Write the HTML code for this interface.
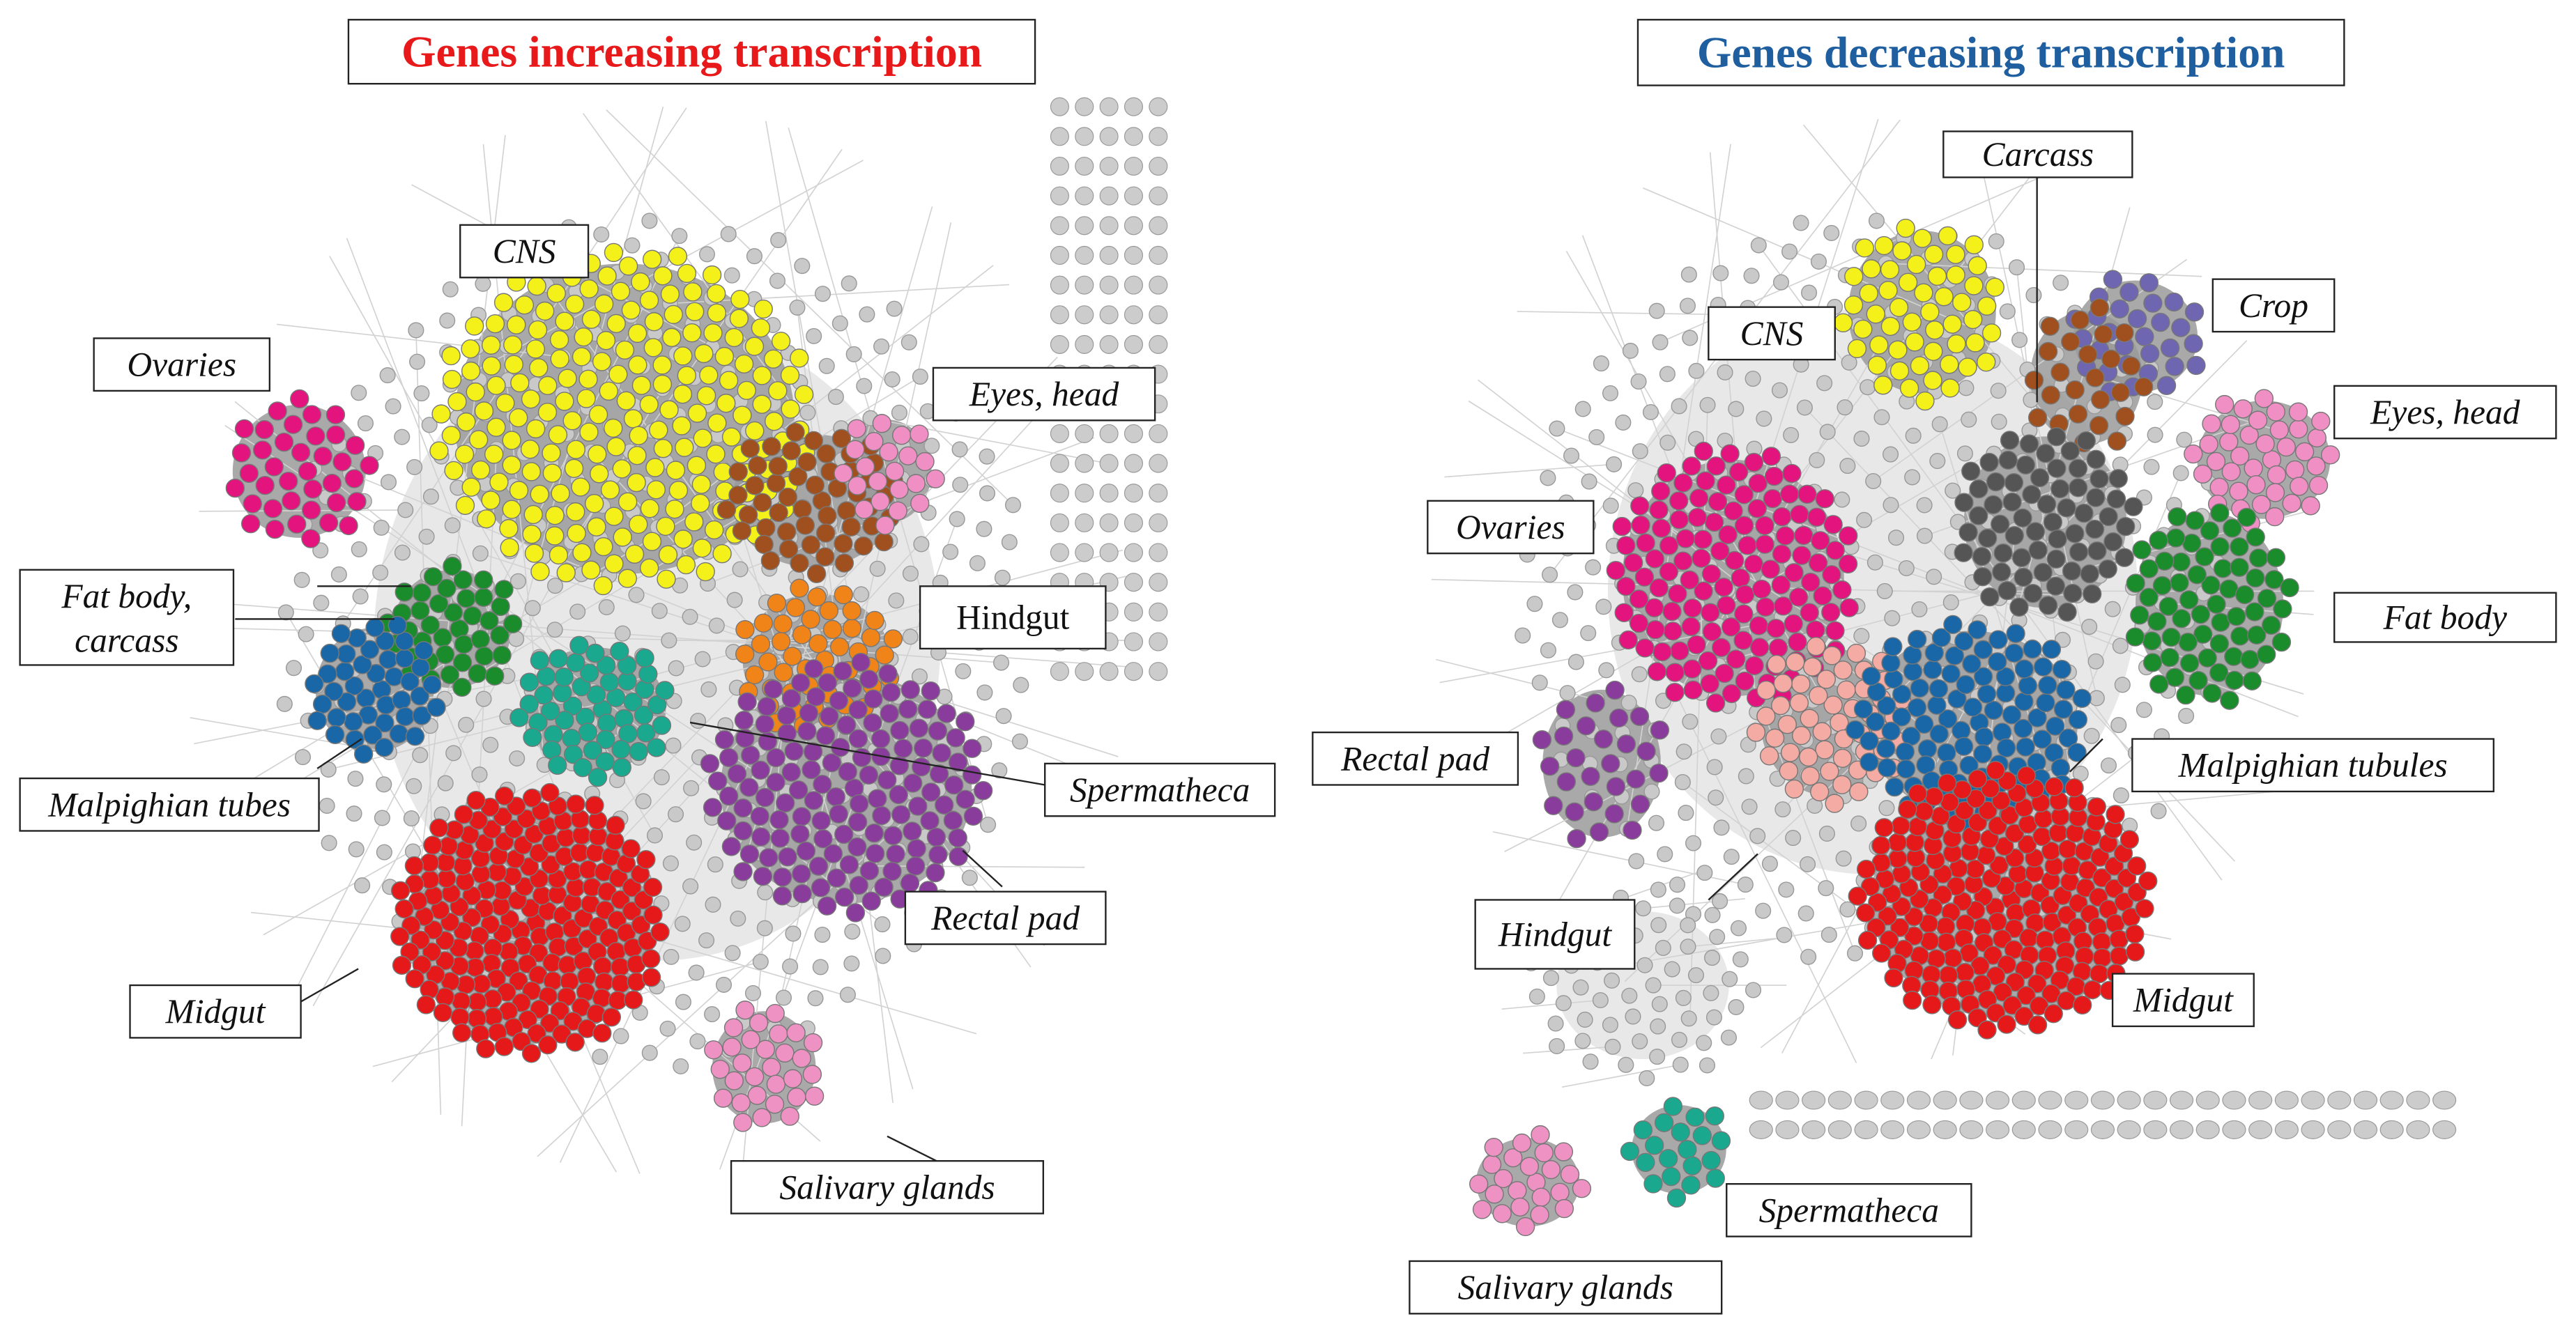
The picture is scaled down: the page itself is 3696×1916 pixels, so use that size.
<!DOCTYPE html>
<html><head><meta charset="utf-8"><style>
html,body{margin:0;padding:0;background:#fff}
svg{display:block}
.lbl{font-family:"Liberation Serif",serif;font-style:italic;font-size:21px;fill:#111}
.box{fill:#fff;stroke:#222;stroke-width:1}
</style></head><body>
<svg id="fig" width="3696" height="1916" viewBox="0 0 1568 813" xmlns="http://www.w3.org/2000/svg">
<g id="edges"></g>
<g id="nodes"></g>
<g id="labels"></g>
</svg>
<script>
const clusterNames=["bgL","gridL1","cnsL","ovL","brownL","eyesL","greenL","blueL","tealL","orangeL","purpleL","redL","salL",
"bgR","yellowR","cropR","brownR","eyesR","darkR","ovR","fatR","salmonR","blueR","redR","rectR","salR","spermR","hubR"];
const clusterCx=[400,675,380,182,495,540,275,228,362,497,515,322,465, 1140,1170,1300,1270,1378,1245,1055,1345,1115,1200,1220,975,930,1022,1000];
const clusterCy=[390,235,255,287,305,287,383,420,432,402,480,562,650, 360,190,205,230,280,318,352,368,440,440,548,465,720,700,600];
const clusterRx=[230,35,115,45,55,30,40,40,48,50,85,82,35, 215,50,42,38,45,55,75,50,48,72,90,40,35,32,70];
const clusterRy=[260,175,105,45,45,35,40,42,42,45,78,82,38, 230,55,38,45,40,58,80,62,50,62,80,50,30,30,60];
const clusterCount=[520,0,230,38,55,22,40,45,55,50,150,210,30, 430,55,30,25,42,70,140,70,55,110,220,28,24,20,60];
const clusterColor=["#c9c9c9","#cccccc","#f4f11a","#e3147d","#a0501e","#ef8fc4","#1a8c2c","#1967a6","#1aa98f","#f08419","#8a3c9c","#e6191a","#ee91c3",
"#c9c9c9","#f4f11a","#6f66b2","#a0501e","#ef8fc4","#555555","#e3147d","#1a8c2c","#f4aba3","#1967a6","#e6191a","#8a3c9c","#ee91c3","#1aa98f","#c9c9c9"];
const NS="http://www.w3.org/2000/svg";
const edges=document.getElementById('edges'),nodes=document.getElementById('nodes'),labels=document.getElementById('labels');
function mk(t,a,p){const e=document.createElementNS(NS,t);for(const k in a)e.setAttribute(k,a[k]);p.appendChild(e);return e;}
clusterNames.forEach((n,i)=>{if(clusterCount[i]===0)return;
 const bg=(i===0||i===13||i===27);
 const sh=mk('ellipse',{cx:clusterCx[i],cy:clusterCy[i],rx:clusterRx[i]*(bg?0.75:0.9),ry:clusterRy[i]*(bg?0.75:0.9),fill:bg?'#d8d8d8':'#9a9a9a',opacity:bg?0.6:0.85},edges);
 
 
});
clusterNames.forEach((n,ci)=>{
 const N=clusterCount[ci];const g=mk('g',{},nodes);
 
 
 const big=!(ci===0||ci===13||ci===27);
 for(let i=0;i<N;i++){
  const r=Math.sqrt((i+0.5)/N),th=i*2.39996;
  const x=clusterCx[ci]+clusterRx[ci]*r*Math.cos(th),y=clusterCy[ci]+clusterRy[ci]*r*Math.sin(th);
  if(!big && i%9===0){const l=mk('line',{x1:x,y1:y,x2:clusterCx[ci]+clusterRx[ci]*1.25*Math.cos(th*1.3),y2:clusterCy[ci]+clusterRy[ci]*1.25*Math.sin(th*1.3),stroke:'#d2d2d2','stroke-width':0.7},edges);}
  const c=mk('circle',{cx:x,cy:y,r:big?5.5:4.6,fill:clusterColor[ci],stroke:big?'#777':'#999','stroke-width':0.6},g);
  
  
 }
});
const gridLCols=[645,660,675,690,705];
const gridLRows=20;
gridLCols.forEach(x=>{for(let j=0;j<gridLRows;j++){const c=mk('circle',{cx:x,cy:65+j*18.1,r:5.5,fill:'#cccccc',stroke:'#999','stroke-width':0.5},nodes);
 
 }});
for(let k=0;k<2;k++)for(let j=0;j<27;j++){const c=mk('ellipse',{cx:1072+j*16,cy:670+k*18,rx:7,ry:5.5,fill:'#cccccc',stroke:'#999','stroke-width':0.5},nodes);
 
 }
function title(x,y,w,h,t,col,name){const g=mk('g',{},labels);
 
 
 mk('rect',{x:x,y:y,width:w,height:h,class:'box'},g);
 const tx=mk('text',{x:x+w/2,y:y+h/2+9,'text-anchor':'middle','font-family':'Liberation Serif, serif','font-weight':'bold','font-size':27,fill:col},g);tx.textContent=t;}
title(212,12,418,39,'Genes increasing transcription','#e8191a','title-increasing');
title(997,12,430,40,'Genes decreasing transcription','#1f5f9f','title-decreasing');
const labText=["CNS","Ovaries","Eyes, head","Fat body,|carcass","Hindgut","Spermatheca","Malpighian tubes","Rectal pad","Midgut","Salivary glands",
"Carcass","Crop","CNS","Eyes, head","Ovaries","Fat body","Rectal pad","Malpighian tubules","Hindgut","Midgut","Spermatheca","Salivary glands"];
const labBox=[[280,137,78,32],[57,206,107,32],[568,224,135,32],[12,347,130,58],[560,357,113,38],[636,465,140,32],[12,474,182,32],[551,543,122,32],[79,600,104,32],[445,707,190,32],
[1183,80,115,28],[1347,170,74,32],[1040,187,77,32],[1421,235,135,32],[869,305,101,32],[1421,361,135,30],[799,446,125,32],[1298,450,220,32],[898,548,97,42],[1286,593,86,32],[1051,721,149,32],[858,768,190,32]];
labText.forEach((t,i)=>{const [x,y,w,h]=labBox[i];const g=mk('g',{},labels);
 
 
 mk('rect',{x:x,y:y,width:w,height:h,class:'box'},g);
 const parts=t.split('|');
 parts.forEach((p,k)=>{const tx=mk('text',{x:x+w/2,y:y+(parts.length>1?23+k*27:h/2+7),'text-anchor':'middle',class:'lbl'},g);
  if(p==='Hindgut'&&i===4)tx.setAttribute('style','font-style:normal');tx.textContent=p;});
});
const leaders=[[193,357,250,357],[143,377,240,377],[193,468,220,450],[636,478,420,440],[586,518,610,540],[183,610,218,590],[540,692,570,707],[1240,108,1240,245],[1040,548,1070,520],[1280,450,1260,470]];
leaders.forEach(l=>{const e=mk('line',{x1:l[0],y1:l[1],x2:l[2],y2:l[3],stroke:'#222','stroke-width':1},labels);
 
 });
</script>
</body></html>
